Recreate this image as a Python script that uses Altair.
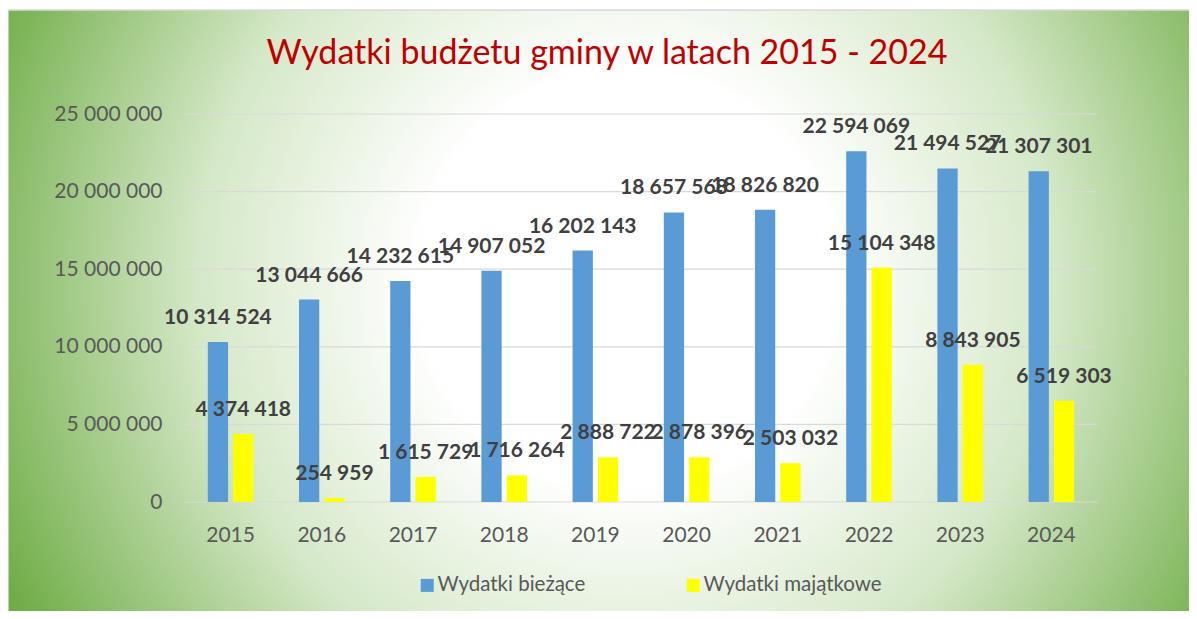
import altair as alt
import pandas as pd

years = ["2015", "2016", "2017", "2018", "2019", "2020", "2021", "2022", "2023", "2024"]
biezace = [10314524, 13044666, 14232615, 14907052, 16202143, 18657568, 18826820, 22594069, 21494527, 21307301]
majatkowe = [4374418, 254959, 1615729, 1716264, 2888722, 2878396, 2503032, 15104348, 8843905, 6519303]
series_names = ["Wydatki bieżące", "Wydatki majątkowe"]
series_colors = ["#5B9BD5", "#FFFF00"]
y_ticks = [0, 5000000, 10000000, 15000000, 20000000, 25000000]
title_text = "Wydatki budżetu gminy w latach 2015 - 2024"

rows = []
for y, b, m in zip(years, biezace, majatkowe):
    rows.append({"year": y, "series": series_names[0], "value": b})
    rows.append({"year": y, "series": series_names[1], "value": m})
df = pd.DataFrame(rows)
df["label"] = df["value"].map(lambda v: f"{v:,}".replace(",", " "))

FONT = "Lato"
W, H = 912, 388
PL, PT, PR, PB = 177, 106, 92, 109

x_scale = alt.Scale(paddingInner=0.5, paddingOuter=0.25)
y_scale = alt.Scale(domain=[0, 25000000], nice=False)
xo_scale = alt.Scale(paddingInner=0.2, paddingOuter=0)

x_axis = alt.Axis(title=None, domain=False, ticks=False, grid=False, labelAngle=0,
                  labelFont=FONT, labelFontSize=21, labelColor="#595959",
                  labelPadding=22, zindex=1)
y_axis = alt.Axis(title=None, domain=False, ticks=False, grid=False, values=y_ticks,
                  labelFont=FONT, labelFontSize=21, labelColor="#595959",
                  labelPadding=23, zindex=1,
                  labelExpr="replace(format(datum.value, ','), /,/g, ' ')")

bg = alt.Chart(pd.DataFrame({"a": [0]})).mark_rect(
    fill={
        "gradient": "radial",
        "x1": 0.52, "y1": 0.47, "r1": 0,
        "x2": 0.52, "y2": 0.47, "r2": 0.58,
        "stops": [
            {"offset": 0, "color": "#FFFFFF"},
            {"offset": 0.3, "color": "#FFFFFF"},
            {"offset": 0.62, "color": "#D5E8C8"},
            {"offset": 1, "color": "#70AD47"},
        ],
    },
    stroke="#D9D9D9", strokeWidth=1.5,
).encode(
    x=alt.value(-PL), x2=alt.value(W + PR + 10),
    y=alt.value(-PT + 2), y2=alt.value(H + PB + 10),
)

grid = alt.Chart(pd.DataFrame({"v": y_ticks})).mark_rule(color="#D9D9D9", strokeWidth=1.2).encode(
    y=alt.Y("v:Q", scale=y_scale, axis=y_axis),
    x=alt.value(0), x2=alt.value(W),
)

base = alt.Chart(df).encode(
    x=alt.X("year:N", scale=x_scale, axis=x_axis, sort=years),
    xOffset=alt.XOffset("series:N", scale=xo_scale, sort=series_names),
    y=alt.Y("value:Q", scale=y_scale, axis=y_axis),
)

bars = base.mark_bar().encode(
    color=alt.Color("series:N",
                    scale=alt.Scale(domain=series_names, range=series_colors),
                    sort=series_names,
                    legend=alt.Legend(orient="none", legendX=232, legendY=461,
                                      direction="horizontal", title=None,
                                      symbolType="square", symbolSize=169,
                                      symbolStrokeWidth=0, labelFont=FONT,
                                      labelFontSize=20.5, labelColor="#595959",
                                      labelOffset=0, columnPadding=97,
                                      labelLimit=400, zindex=1)),
)

labels = base.mark_text(font=FONT, fontSize=21, fontWeight="bold", color="#404040",
                        baseline="alphabetic", dy=-18).encode(text="label:N")

chart = alt.layer(bg, grid, bars, labels).properties(
    width=W, height=H,
    padding={"left": PL, "top": PT, "right": PR, "bottom": PB},
    autosize=alt.AutoSizeParams(type="none"),
    title=alt.TitleParams(title_text, font=FONT, fontSize=34, fontWeight="normal",
                          color="#C00000", anchor="middle", dx=-34,
                          baseline="alphabetic", offset=-89, zindex=1),
).configure_view(stroke=None).configure(background="#FFFFFF")

chart.save("out.html", embed_options={"renderer": "svg", "actions": False})
